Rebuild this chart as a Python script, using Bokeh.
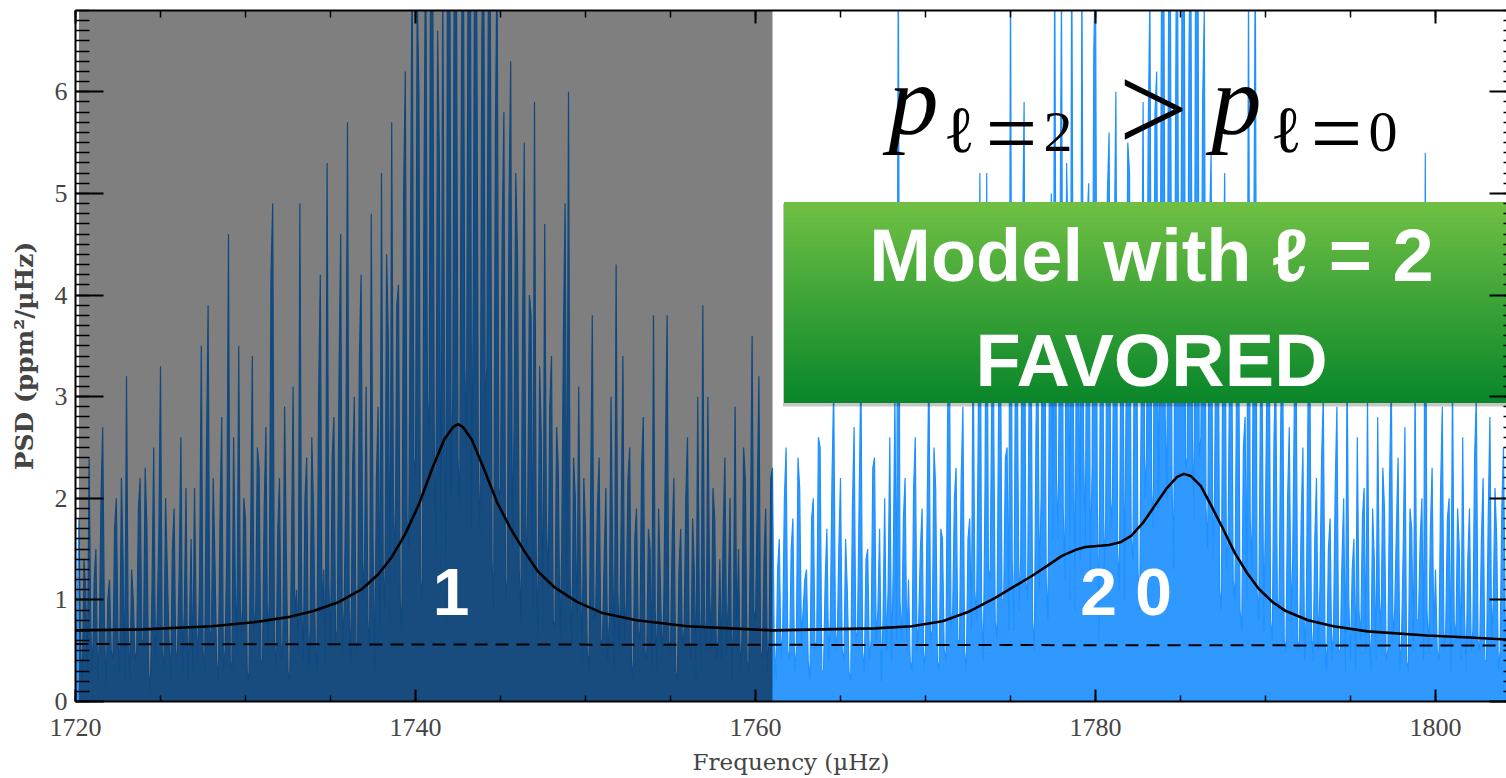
from bokeh.plotting import figure
from bokeh.models import Range1d, LinearAxis, Label, FixedTicker, CustomJSTickFormatter
from bokeh.embed import file_html
from bokeh.resources import INLINE

# ---------------- data ----------------
F_START = 1720.0
F_STEP = 0.1
psd = [
    0.4, 0.9, 1.8, 0.5, 0.2, 1.4, 1.1, 0.3, 2.4, 0.7,
    0.3, 1.2, 1.5, 0.2, 0.6, 2.0, 2.7, 0.8, 0.1, 1.0,
    1.2, 0.5, 0.4, 1.7, 2.0, 0.6, 0.3, 2.2, 1.4, 0.2,
    3.2, 0.7, 0.2, 1.3, 1.0, 0.4, 0.5, 1.9, 2.2, 0.6,
    0.6, 2.3, 1.7, 0.3, 0.1, 1.1, 2.5, 0.4, 0.8, 1.6,
    3.3, 0.5, 0.3, 2.0, 1.3, 0.6, 0.2, 1.5, 1.9, 0.4,
    0.5, 1.3, 2.6, 0.3, 0.9, 2.1, 0.2, 0.7, 1.6, 0.3,
    2.1, 0.8, 0.4, 1.2, 3.5, 0.5, 0.3, 2.4, 3.9, 0.6,
    0.7, 2.2, 1.4, 0.4, 0.2, 1.8, 2.8, 0.3, 0.5, 1.5,
    4.6, 0.4, 0.3, 2.6, 1.2, 0.5, 3.5, 0.9, 0.6, 2.0,
    1.8, 0.3, 0.2, 1.6, 3.4, 0.7, 0.9, 2.5, 2.3, 0.4,
    0.4, 1.9, 2.7, 0.5, 1.0, 4.2, 4.9, 0.6, 0.3, 1.7,
    2.2, 0.4, 0.6, 2.9, 1.5, 0.3, 0.2, 1.4, 3.1, 0.8,
    1.1, 0.5, 4.9, 1.0, 0.4, 2.0, 2.4, 0.3, 0.7, 2.6,
    1.9, 0.6, 0.3, 3.0, 4.2, 0.8, 1.3, 0.4, 5.3, 1.2,
    0.5, 2.4, 2.8, 0.6, 0.7, 3.2, 4.6, 0.5, 0.9, 2.1,
    5.7, 0.9, 0.4, 2.3, 3.0, 0.5, 0.6, 3.4, 4.2, 1.0,
    1.4, 3.1, 0.8, 0.5, 4.8, 1.6, 0.3, 2.2, 2.9, 0.7,
    5.2, 1.3, 0.9, 4.4, 3.6, 0.8, 5.7, 2.0, 1.2, 3.9,
    4.1, 1.0, 0.7, 5.0, 6.2, 1.8, 1.5, 4.3, 7.5, 2.4,
    2.2, 7.0, 6.0, 1.2, 1.0, 5.1, 7.8, 3.0, 2.6, 8.3,
    8.0, 2.7, 1.4, 6.6, 5.4, 1.1, 7.2, 3.5, 0.8, 9.2,
    9.0, 2.0, 3.1, 8.7, 7.6, 2.4, 1.9, 6.1, 8.4, 3.3,
    2.5, 7.8, 10.2, 1.7, 4.0, 8.8, 7.0, 2.2, 1.6, 6.5,
    8.1, 2.9, 3.3, 7.7, 6.9, 1.4, 0.9, 5.6, 7.4, 2.0,
    2.1, 4.6, 5.8, 1.0, 1.2, 4.9, 6.3, 1.5, 2.7, 5.2,
    4.4, 1.3, 0.8, 3.7, 5.5, 1.1, 1.9, 4.0, 3.8, 0.9,
    5.9, 1.5, 0.6, 3.3, 2.6, 0.7, 4.7, 1.8, 1.1, 2.9,
    3.4, 0.8, 0.7, 2.7, 2.3, 0.5, 1.5, 3.6, 4.9, 1.0,
    6.0, 1.2, 0.5, 2.4, 2.0, 0.6, 3.1, 1.3, 0.4, 2.2,
    1.7, 0.5, 0.3, 2.0, 3.8, 0.8, 0.9, 1.9, 2.4, 0.6,
    0.6, 1.4, 2.1, 0.4, 0.8, 3.0, 1.4, 0.3, 4.3, 1.1,
    0.5, 1.8, 3.4, 0.6, 1.0, 2.2, 2.5, 0.4, 0.2, 1.6,
    1.9, 0.7, 0.6, 2.3, 2.8, 0.5, 0.4, 1.7, 1.5, 0.3,
    3.8, 0.9, 0.3, 1.9, 1.2, 0.4, 0.9, 2.4, 3.8, 0.6,
    0.5, 1.6, 2.2, 0.3, 0.2, 1.3, 1.7, 0.5, 0.7, 2.0,
    2.6, 0.6, 0.4, 1.8, 1.3, 0.2, 3.0, 0.9, 0.3, 3.9,
    0.8, 0.5, 3.0, 1.1, 0.5, 2.1, 1.8, 0.4, 0.6, 1.4,
    0.4, 1.7, 2.4, 0.5, 1.0, 2.0, 0.2, 0.8, 2.9, 0.6,
    1.5, 0.3, 0.6, 2.5, 2.2, 0.4, 0.3, 1.6, 3.6, 0.9,
    0.8, 1.9, 3.2, 0.5, 0.4, 1.4, 1.9, 0.3, 0.6, 2.2,
    2.3, 0.6, 0.2, 1.3, 1.6, 0.4, 0.7, 2.0, 2.5, 0.5,
    0.4, 1.5, 1.8, 0.3, 0.5, 2.4, 2.1, 0.6, 0.9, 1.2,
    1.3, 0.4, 0.2, 1.8, 2.0, 0.5, 0.6, 2.6, 2.5, 0.3,
    0.3, 1.2, 1.7, 0.4, 0.8, 2.2, 3.1, 0.7, 0.5, 1.5,
    2.2, 0.5, 0.4, 1.6, 1.1, 0.3, 0.2, 1.9, 2.7, 0.6,
    0.7, 2.0, 3.3, 0.5, 0.3, 1.4, 1.5, 0.4, 0.6, 2.3,
    2.4, 0.6, 0.9, 1.7, 0.2, 0.8, 2.0, 0.5, 1.1, 2.6,
    0.4, 1.3, 3.0, 0.6, 7.5, 1.0, 0.6, 1.8, 2.2, 0.5,
    1.2, 0.4, 0.3, 2.1, 2.6, 0.5, 0.8, 1.5, 1.9, 0.3,
    0.5, 1.9, 3.4, 0.6, 0.7, 2.5, 2.1, 0.4, 0.3, 1.7,
    1.6, 0.5, 0.4, 2.8, 3.8, 0.7, 0.9, 2.0, 2.3, 0.6,
    0.6, 2.2, 2.9, 0.5, 0.3, 1.6, 1.8, 0.7, 3.6, 1.1,
    0.8, 2.6, 5.2, 0.9, 0.4, 2.1, 5.2, 1.3, 1.2, 3.0,
    3.1, 0.8, 0.6, 2.9, 4.0, 1.0, 1.0, 2.4, 2.5, 0.7,
    7.2, 1.4, 0.7, 3.7, 3.3, 0.9, 1.4, 4.4, 5.9, 1.2,
    1.0, 3.2, 4.1, 0.8, 0.5, 2.7, 3.6, 1.1, 2.0, 4.5,
    4.7, 1.2, 0.8, 3.5, 5.0, 1.6, 7.4, 2.2, 1.6, 4.1,
    7.0, 1.9, 1.2, 5.3, 4.4, 1.0, 7.6, 2.8, 0.9, 4.9,
    3.8, 1.4, 7.2, 2.5, 1.5, 4.7, 5.1, 1.3, 2.3, 6.4,
    7.3, 2.1, 0.6, 3.9, 4.9, 1.2, 1.8, 5.0, 5.6, 1.7,
    2.0, 4.4, 6.0, 1.5, 1.1, 3.8, 4.3, 1.0, 3.0, 5.5,
    5.2, 1.6, 1.4, 4.1, 4.6, 1.3, 0.9, 3.3, 5.9, 2.0,
    2.4, 5.6, 7.0, 2.1, 1.7, 5.8, 6.2, 1.9, 3.5, 7.7,
    8.5, 2.8, 2.0, 6.9, 7.4, 2.2, 1.3, 5.2, 9.0, 3.1,
    3.0, 7.5, 8.8, 2.3, 2.4, 6.4, 7.9, 2.6, 1.8, 8.2,
    9.5, 2.4, 2.6, 5.9, 6.8, 1.9, 1.5, 4.6, 5.4, 1.4,
    2.0, 4.1, 4.8, 1.1, 0.9, 3.9, 5.2, 1.3, 1.6, 3.6,
    3.9, 1.2, 1.0, 3.2, 4.6, 0.9, 0.7, 2.5, 2.8, 1.0,
    7.1, 1.8, 1.3, 4.0, 7.4, 1.1, 0.8, 2.9, 3.2, 0.7,
    1.9, 3.4, 4.5, 0.8, 0.6, 2.6, 3.3, 0.9, 1.0, 2.8,
    3.9, 0.6, 0.5, 2.0, 2.7, 0.8, 1.4, 3.0, 3.4, 0.5,
    0.6, 1.8, 2.5, 0.4, 0.9, 2.9, 3.6, 0.7, 0.4, 1.6,
    2.2, 0.5, 1.1, 2.4, 3.0, 0.6, 0.3, 1.5, 1.8, 0.4,
    0.7, 2.1, 2.9, 0.5, 0.5, 1.4, 2.0, 0.3, 3.3, 1.0,
    0.4, 1.3, 1.6, 0.3, 2.6, 0.9, 0.6, 1.8, 2.1, 0.5,
    3.0, 0.7, 0.3, 1.9, 1.4, 0.4, 2.8, 1.0, 0.7, 2.3,
    1.9, 0.4, 0.5, 2.2, 3.2, 0.6, 0.9, 1.7, 2.4, 0.3,
    0.6, 1.5, 2.7, 0.4, 0.3, 1.9, 1.7, 0.5, 3.1, 0.8,
    0.8, 1.6, 2.0, 0.4, 5.4, 0.9, 0.5, 1.7, 2.3, 0.6,
    1.3, 0.5, 0.4, 2.1, 2.9, 0.5, 0.7, 1.8, 2.0, 0.3,
    3.2, 0.8, 0.6, 1.9, 1.5, 0.4, 2.6, 0.9, 0.3, 1.4,
    1.9, 0.5, 0.7, 2.4, 3.0, 0.6, 0.5, 1.6, 2.2, 0.4,
    0.4, 1.8, 2.8, 0.6, 1.0, 2.1, 1.6, 0.3, 0.5, 1.9,
    2.5, 0.8, 0.6,
]
freq = [F_START + F_STEP * i for i in range(len(psd))]

model_freq = [1720, 1724, 1728, 1730.5, 1732.5, 1734, 1735.5, 1736.8, 1737.8, 1738.6,
              1739.4, 1740.2, 1741.0, 1741.7, 1742.2, 1742.5, 1742.8, 1743.3, 1744.0,
              1744.8, 1745.6, 1746.4, 1747.2, 1748.2, 1749.5, 1751, 1753, 1756, 1758.5,
              1761, 1764, 1767, 1769.2, 1771, 1772.5, 1774.1, 1775.2, 1776.3, 1777.2,
              1778.0, 1778.8, 1779.4, 1780.1, 1780.8, 1781.5, 1782.1, 1782.8, 1783.5,
              1784.2, 1784.8, 1785.2, 1785.6, 1786.2, 1786.8, 1787.5, 1788.2, 1788.9,
              1789.6, 1790.4, 1791.2, 1792.5, 1794.0, 1796, 1799.5, 1802, 1804.2]
model_psd = [0.70, 0.71, 0.74, 0.78, 0.83, 0.89, 0.98, 1.10, 1.25, 1.42,
             1.65, 1.94, 2.30, 2.58, 2.70, 2.73, 2.70, 2.58, 2.30,
             1.96, 1.70, 1.48, 1.28, 1.12, 0.98, 0.87, 0.80, 0.74, 0.72,
             0.70, 0.71, 0.72, 0.74, 0.79, 0.88, 1.02, 1.13, 1.24, 1.34,
             1.43, 1.49, 1.52, 1.53, 1.54, 1.57, 1.63, 1.76, 1.93,
             2.10, 2.21, 2.24, 2.22, 2.12, 1.93, 1.70, 1.46, 1.27,
             1.11, 0.98, 0.89, 0.80, 0.74, 0.69, 0.65, 0.63, 0.61]

noise_freq = [1720.0, 1804.2]
noise_psd = [0.565, 0.55]

shade_start, shade_end = 1720.2, 1761.0

x_ticks = [1720, 1740, 1760, 1780, 1800]
y_ticks = [0, 1, 2, 3, 4, 5, 6]

mode_labels = ["1", "2 0"]
mode_label_freq = [1742.1, 1781.8]

# ---------------- geometry helpers (pixel -> data) ----------------
X0, X1, Y0, Y1 = 1720.0, 1720.0 + 1431 / 17.0, 0.0, 6.8
PX_PER_X = 17.0
PX_PER_Y = 691 / 6.8
SHIFT = 0.35   # Bokeh places the text about 0.35 em lower than the given y


def dx(px):
    return X0 + (px - 75) / PX_PER_X


def dy(py):
    return (701 - py) / PX_PER_Y


def dyb(py, size):
    """baseline pixel -> data y used for a Label"""
    return dy(py - SHIFT * size)


p = figure(width=1506, height=778, x_range=Range1d(X0, X1), y_range=Range1d(Y0, Y1),
           output_backend="svg", toolbar_location=None,
           min_border_left=75, min_border_right=0, min_border_top=10, min_border_bottom=77)
p.outline_line_color = None
p.xgrid.visible = False
p.ygrid.visible = False
p.background_fill_color = "white"
p.border_fill_color = "white"

xticker = FixedTicker(ticks=x_ticks, minor_ticks=list(range(1720, 1806, 5)))
yticker = FixedTicker(ticks=y_ticks, minor_ticks=[i / 10 for i in range(0, 69)])
blank = CustomJSTickFormatter(code="return ''")

TICK_FONT = "Liberation Serif"

xa = p.xaxis[0]
xa.ticker = xticker
xa.axis_label = "Frequency (µHz)"
xa.axis_label_text_font = "DejaVu Serif"
xa.axis_label_text_font_style = "normal"
xa.axis_label_text_font_size = "23px"
xa.axis_label_standoff = 10
xa.major_label_text_font = TICK_FONT
xa.major_label_text_font_size = "26px"
xa.major_label_standoff = 17
xa.axis_line_width = 2
xa.major_tick_in = 12
xa.major_tick_out = 0
xa.minor_tick_in = 6
xa.minor_tick_out = 0
xa.major_tick_line_width = 2
xa.minor_tick_line_width = 1.5

ya = p.yaxis[0]
ya.ticker = yticker
ya.axis_label = "PSD (ppm²/µHz)"
ya.axis_label_text_font = "DejaVu Serif"
ya.axis_label_text_font_style = "bold"
ya.axis_label_text_font_size = "25px"
ya.axis_label_standoff = 13
ya.major_label_text_font = TICK_FONT
ya.major_label_text_font_size = "26px"
ya.major_label_standoff = 8
ya.axis_line_width = 2
ya.major_tick_in = 28
ya.major_tick_out = 0
ya.minor_tick_in = 14
ya.minor_tick_out = 0
ya.major_tick_line_width = 2
ya.minor_tick_line_width = 1.5

top = LinearAxis(ticker=xticker, formatter=blank, axis_line_width=2,
                 major_tick_in=13, major_tick_out=0, minor_tick_in=7, minor_tick_out=0,
                 major_tick_line_width=2, minor_tick_line_width=1.5,
                 major_label_standoff=0, major_label_text_font_size="1px")
p.add_layout(top, "above")
right = LinearAxis(ticker=yticker, formatter=blank, axis_line_color=None,
                   major_tick_in=17, major_tick_out=0, minor_tick_in=3, minor_tick_out=0,
                   major_tick_line_width=2, minor_tick_line_width=1.5,
                   major_label_standoff=0, major_label_text_font_size="1px")
p.add_layout(right, "right")

# spectrum: filled below the trace, trace on top
BLUE = "#1E90FF"
p.varea(x=freq, y1=[0] * len(psd), y2=psd, fill_color=BLUE, fill_alpha=0.92)
p.line(freq, psd, line_color=BLUE, line_width=1.2)

# darkened (grey) region
p.quad(left=[shade_start], right=[shade_end], bottom=[-1], top=[10],
       fill_color="black", fill_alpha=0.5, line_color=None)

# model + noise
p.line(model_freq, model_psd, line_color="black", line_width=2.6)
p.line(noise_freq, noise_psd, line_color="black", line_width=2, line_dash="13 8")

# mode degree labels
for t, f in zip(mode_labels, mode_label_freq):
    p.add_layout(Label(x=f, y=dyb(615, 66), text=t, text_color="white", text_font="Liberation Sans",
                       text_font_style="bold", text_font_size="66px", text_align="center",
                       text_baseline="alphabetic"))

# green box with vertical gradient
box_l, box_r = dx(783.5), dx(1520)
box_b, box_t = dy(402.5), dy(201.5)
p.quad(left=[dx(782.5)], right=[box_r], bottom=[dy(406)], top=[dy(203)],
       fill_color="black", fill_alpha=0.22, line_color=None)
n = 40
c0 = (112, 192, 68)
c1 = (8, 134, 42)
lefts, rights, bottoms, tops, cols = [], [], [], [], []
step = (box_t - box_b) / n
for i in range(n):
    t0 = box_t - step * i
    t1 = max(box_b, t0 - step * 1.6)
    fr = (i + 0.5) / n
    c = tuple(int(round(c0[k] + (c1[k] - c0[k]) * fr)) for k in range(3))
    lefts.append(box_l); rights.append(box_r); tops.append(t0); bottoms.append(t1)
    cols.append("#%02x%02x%02x" % c)
p.quad(left=lefts, right=rights, bottom=bottoms, top=tops, fill_color=cols, line_color=None)

p.add_layout(Label(x=dx(1151), y=dyb(281, 74), text="Model with ℓ = 2", text_color="white",
                   text_font="Liberation Sans", text_font_style="bold", text_font_size="74px",
                   text_align="center", text_baseline="alphabetic"))
p.add_layout(Label(x=dx(1151), y=dyb(386, 74), text="FAVORED", text_color="white",
                   text_font="Liberation Sans", text_font_style="bold", text_font_size="74px",
                   text_align="center", text_baseline="alphabetic"))

# math expression  p_{l=2} > p_{l=0}
MF = "Liberation Serif"


def mlabel(px, py, txt, size, style="normal", align="left", font=MF):
    p.add_layout(Label(x=dx(px), y=dyb(py, size), text=txt, text_color="black", text_font=font,
                       text_font_style=style, text_font_size="%dpx" % size, text_align=align,
                       text_baseline="alphabetic"))


mlabel(888, 135, "p", 100, "italic")
mlabel(943, 152, "ℓ", 66, font="DejaVu Serif")
mlabel(1011, 165, "=", 92, align="center")
mlabel(1043, 152, "2", 58)
mlabel(1118, 152, ">", 124)
mlabel(1211, 135, "p", 100, "italic")
mlabel(1270, 152, "ℓ", 66, font="DejaVu Serif")
mlabel(1336, 165, "=", 92, align="center")
mlabel(1368, 152, "0", 58)

open("out.html", "w").write(file_html(p, INLINE))
